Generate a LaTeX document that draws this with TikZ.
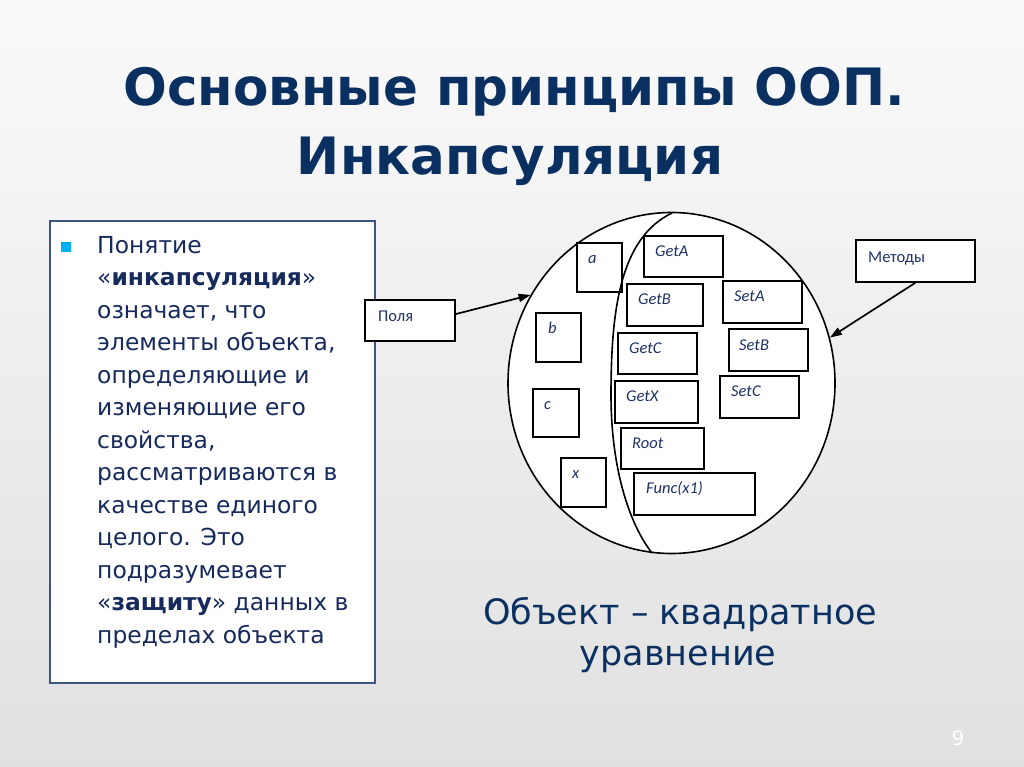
\documentclass[tikz,border=0pt]{standalone}
\usepackage{fontspec}
\setmainfont{DejaVu Sans}
\newfontfamily\lblfont{Carlito}
\usetikzlibrary{arrows.meta,shapes.geometric,fit}
\definecolor{navy}{RGB}{10,48,98}
\definecolor{bodyc}{RGB}{22,42,92}
\definecolor{lblc}{RGB}{30,50,100}
\definecolor{frame}{RGB}{60,85,130}
\definecolor{bull}{RGB}{0,176,240}
\tikzset{
  ttl/.style={text=navy,font=\fontsize{51.5}{60}\selectfont\bfseries,inner sep=0pt,anchor=base},
  body/.style={text=bodyc,font=\fontsize{23.4}{30}\selectfont,inner sep=0pt,anchor=base west},
  captext/.style={text=navy,font=\fontsize{35}{42}\selectfont,inner sep=0pt,anchor=base},
  fbox/.style={draw=black,line width=1.4pt,inner sep=0pt},
  lbl/.style={text=lblc,font=\lblfont\fontsize{16.5}{18}\selectfont\itshape,inner sep=0pt,anchor=base west},
  ulbl/.style={text=lblc,font=\lblfont\fontsize{16.5}{18}\selectfont,inner sep=0pt,anchor=base west},
  arr/.style={draw=black,line width=1.7pt,-{Triangle[length=12pt,width=8pt]}}
}
\begin{document}
\begin{tikzpicture}[x=1pt,y=-1pt]
\useasboundingbox (0,0) rectangle (1024,767);
\shade[top color=white!98!black,bottom color=white!88!black] (0,0) rectangle (1024,767);

% title
\node[ttl] (t1) at (514,106) {Основные принципы ООП.};
\node[ttl] (t2) at (510,175) {Инкапсуляция};

% left text box
\node[draw=frame,line width=1.5pt,fill=white,inner sep=0pt,fit={(50,221) (375,683)}] (leftbox) {};
\node[fill=bull,inner sep=0pt,minimum size=10pt] (bullet) at (66,247) {};
\node[body] (l1) at (97,253) {Понятие};
\node[body] (l2) at (97,285.5) {«\textbf{инкапсуляция}»};
\node[body] (l3) at (97,318) {означает, что};
\node[body] (l4) at (97,350.5) {элементы объекта,};
\node[body] (l5) at (97,383) {определяющие и};
\node[body] (l6) at (97,415.5) {изменяющие его};
\node[body] (l7) at (97,448) {свойства,};
\node[body] (l8) at (97,480.5) {рассматриваются в};
\node[body] (l9) at (97,513) {качестве единого};
\node[body] (l10) at (97,545.5) {целого. Это};
\node[body] (l11) at (97,578) {подразумевает};
\node[body] (l12) at (97,610.5) {«\textbf{защиту}» данных в};
\node[body] (l13) at (97,643) {пределах объекта};

% object ellipse
\node[ellipse,draw=black,line width=1.6pt,fill=white,inner sep=0pt,minimum width=327pt,minimum height=341pt] (ell) at (671.5,383) {};
\draw[line width=1.6pt] (672,213) .. controls (620,238) and (611,310) .. (611,395)
  .. controls (611,470) and (630,525) .. (652,553);

% field boxes
\node[fbox,fit={(577,243) (622,292)}] (ba) {};
\node[lbl] (ta) at (588,263) {a};
\node[fbox,fit={(536,313) (581,362)}] (bb) {};
\node[lbl] (tb) at (548,333) {b};
\node[fbox,fit={(533,389) (579,437)}] (bc) {};
\node[lbl] (tc) at (544,409) {c};
\node[fbox,fit={(561,458) (606,507)}] (bx) {};
\node[lbl] (tx) at (572,478) {x};

% method boxes
\node[fbox,fit={(644,236) (723,277)}] (bgeta) {};
\node[lbl] (tgeta) at (655,256) {GetA};
\node[fbox,fit={(627,284) (703,326)}] (bgetb) {};
\node[lbl] (tgetb) at (638,304) {GetB};
\node[fbox,fit={(723,281) (802,323)}] (bseta) {};
\node[lbl] (tseta) at (734,301) {SetA};
\node[fbox,fit={(618,333) (697,374)}] (bgetc) {};
\node[lbl] (tgetc) at (629,353) {GetC};
\node[fbox,fit={(729,329) (808,371)}] (bsetb) {};
\node[lbl] (tsetb) at (739,350) {SetB};
\node[fbox,fit={(615,381) (698,423)}] (bgetx) {};
\node[lbl] (tgetx) at (626,401) {GetX};
\node[fbox,fit={(720,376) (799,418)}] (bsetc) {};
\node[lbl] (tsetc) at (731,396) {SetC};
\node[fbox,fit={(621,428) (704,469)}] (broot) {};
\node[lbl] (troot) at (632,448) {Root};
\node[fbox,fit={(634,473) (755,515)}] (bfunc) {};
\node[lbl] (tfunc) at (646,493) {Func(x1)};

% callouts
\node[fbox,fill=white,fit={(365,300) (455,341)}] (polya) {};
\node[ulbl] (tpolya) at (378,321) {Поля};
\node[fbox,fill=white,fit={(856,240) (975,282)}] (metody) {};
\node[ulbl] (tmetody) at (868,262) {Методы};
\draw[arr] (polya.8) -- (ell.148);
\draw[arr] (metody.south) -- (ell.16.5);

% caption
\node[captext] (c1) at (680,624) {Объект – квадратное};
\node[captext] (c2) at (678,665) {уравнение};

% page number
\node[text=white,font=\fontsize{20}{24}\selectfont,inner sep=0pt,anchor=base] (pg) at (958,745) {9};
\end{tikzpicture}
\end{document}
